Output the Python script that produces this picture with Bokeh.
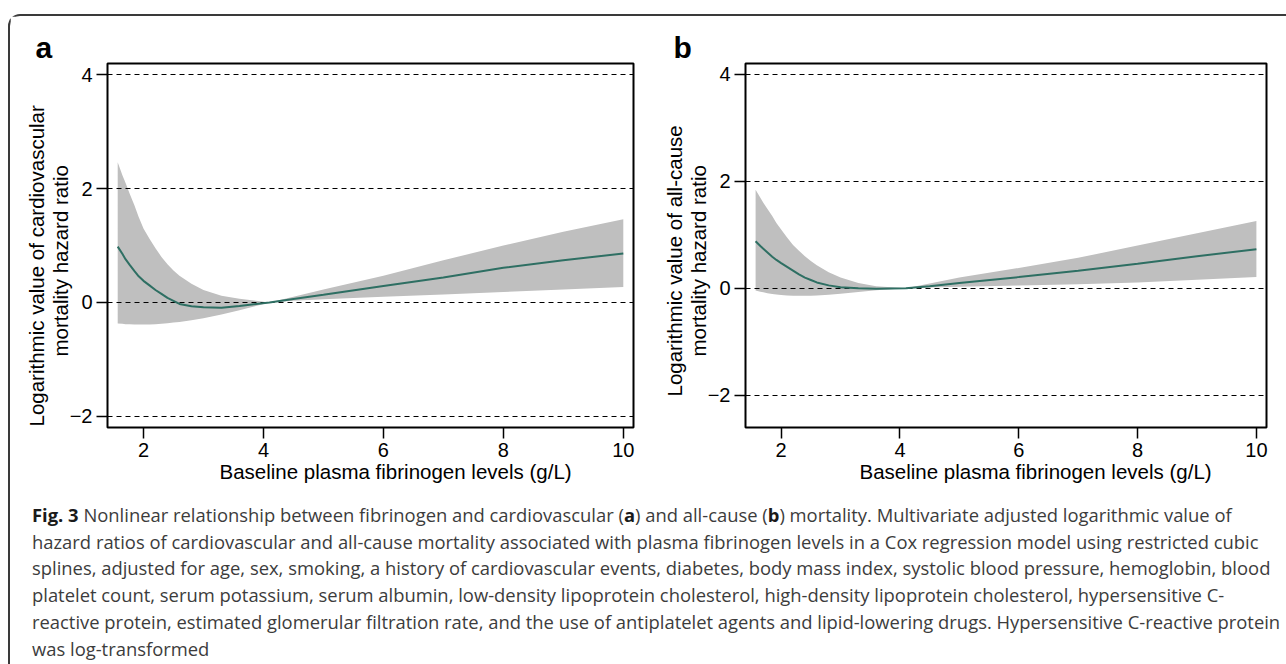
from bokeh.plotting import figure
from bokeh.models import Range1d, FixedTicker, Title, Div
from bokeh.layouts import row, column
from bokeh.embed import file_html
from bokeh.resources import INLINE

# ---------------- data ----------------
fibrinogen = [1.57, 1.65, 1.70, 1.77, 1.85, 1.92, 2.0, 2.1, 2.2, 2.3, 2.4, 2.5,
              2.6, 2.8, 3.0, 3.3, 3.6, 4.1, 4.5, 5.0, 6.0, 7.0, 8.0, 9.0, 10.0]

# panel a: cardiovascular mortality (log HR, 95% CI)
cv_fit = [0.98, 0.85, 0.76, 0.66, 0.55, 0.46, 0.38, 0.30, 0.22, 0.15, 0.08, 0.03,
          -0.025, -0.065, -0.085, -0.09, -0.06, 0.0, 0.06, 0.135, 0.29, 0.44,
          0.61, 0.74, 0.86]
cv_upper = [2.46, 2.23, 2.10, 1.91, 1.70, 1.50, 1.30, 1.12, 0.95, 0.80, 0.67, 0.56,
            0.47, 0.33, 0.22, 0.12, 0.065, 0.0, 0.10, 0.23, 0.47, 0.74, 1.00,
            1.24, 1.46]
cv_lower = [-0.37, -0.375, -0.38, -0.382, -0.385, -0.386, -0.386, -0.385, -0.38,
            -0.373, -0.365, -0.353, -0.34, -0.31, -0.275, -0.21, -0.135, 0.0,
            0.03, 0.055, 0.10, 0.14, 0.185, 0.23, 0.27]

# panel b: all-cause mortality (log HR, 95% CI)
ac_fit = [0.88, 0.79, 0.74, 0.67, 0.59, 0.53, 0.47, 0.40, 0.33, 0.26, 0.20, 0.155,
          0.11, 0.055, 0.02, 0.0, -0.01, 0.0, 0.04, 0.10, 0.21, 0.33, 0.46,
          0.60, 0.73]
ac_upper = [1.84, 1.69, 1.60, 1.48, 1.35, 1.22, 1.10, 0.95, 0.81, 0.70, 0.60, 0.51,
            0.43, 0.30, 0.20, 0.10, 0.04, 0.0, 0.09, 0.20, 0.38, 0.57, 0.80,
            1.03, 1.26]
ac_lower = [-0.04, -0.062, -0.075, -0.09, -0.105, -0.115, -0.125, -0.133, -0.138,
            -0.14, -0.14, -0.138, -0.135, -0.12, -0.10, -0.07, -0.035, 0.0,
            0.015, 0.03, 0.055, 0.075, 0.11, 0.16, 0.21]

x_ticks = [2, 4, 6, 8, 10]
y_ticks = [-2, 0, 2, 4]
ref_lines = [-2, 0, 2, 4]

x_title = "Baseline plasma fibrinogen levels (g/L)"
y_title_a = ["Logarithmic value of cardiovascular", "mortality hazard ratio"]
y_title_b = ["Logarithmic value of all-cause", "mortality hazard ratio"]

caption_lines = [
    "<b style='color:#1a1a1a'>Fig. 3</b> Nonlinear relationship between fibrinogen and cardiovascular (<b style='color:#1a1a1a'>a</b>) and all-cause (<b style='color:#1a1a1a'>b</b>) mortality. Multivariate adjusted logarithmic value of",
    "hazard ratios of cardiovascular and all-cause mortality associated with plasma fibrinogen levels in a Cox regression model using restricted cubic",
    "splines, adjusted for age, sex, smoking, a history of cardiovascular events, diabetes, body mass index, systolic blood pressure, hemoglobin, blood",
    "platelet count, serum potassium, serum albumin, low-density lipoprotein cholesterol, high-density lipoprotein cholesterol, hypersensitive C-",
    "reactive protein, estimated glomerular filtration rate, and the use of antiplatelet agents and lipid-lowering drugs. Hypersensitive C-reactive protein",
    "was log-transformed",
]

FONT = "Liberation Sans"
BAND = "#BFBFBF"
LINE = "#2E6F63"
FIG_H = 481
TICK_FS = "20px"
TITLE_FS = "20.5px"


def make_panel(letter, y_titles, y_offsets, fit, lower, upper, yr, width,
               mb_left, mb_right, xlab_offset):
    p = figure(width=width, height=FIG_H,
               x_range=Range1d(1.40, 10.17), y_range=Range1d(*yr),
               output_backend="svg", toolbar_location=None,
               min_border_left=mb_left, min_border_right=mb_right,
               min_border_top=47, min_border_bottom=70)
    p.xgrid.visible = False
    p.ygrid.visible = False
    p.background_fill_color = "white"
    p.border_fill_color = "white"
    p.outline_line_color = "black"
    p.outline_line_width = 2

    p.varea(x=fibrinogen, y1=lower, y2=upper, fill_color=BAND, fill_alpha=1.0)
    p.hspan(y=ref_lines, line_color="black", line_width=1.2, line_dash="5 4")
    p.line(x=fibrinogen, y=fit, line_color=LINE, line_width=2)

    for ax in (p.xaxis[0], p.yaxis[0]):
        ax.axis_line_color = None
        ax.major_tick_line_color = "black"
        ax.major_tick_line_width = 1.5
        ax.major_tick_out = 11
        ax.major_tick_in = 0
        ax.minor_tick_line_color = None
        ax.major_label_text_font = FONT
        ax.major_label_text_font_size = TICK_FS
        ax.major_label_text_color = "black"
        ax.major_label_standoff = 4
    p.xaxis[0].ticker = FixedTicker(ticks=x_ticks)
    p.yaxis[0].ticker = FixedTicker(ticks=y_ticks)
    p.yaxis[0].major_label_overrides = {t: str(t).replace("-", "\u2212") for t in y_ticks}

    # x-axis title (below the tick labels)
    p.add_layout(Title(text=x_title, align="left", offset=xlab_offset, standoff=0,
                       vertical_align="top",
                       text_font=FONT, text_font_size=TITLE_FS,
                       text_font_style="normal", text_color="black"), "below")
    # y-axis title: two lines, inner line first
    for txt, off, so in zip(reversed(y_titles), reversed(y_offsets), (-10, 7)):
        p.add_layout(Title(text=txt, align="left", offset=off, standoff=so,
                           text_font=FONT, text_font_size=TITLE_FS,
                           text_font_style="normal", text_color="black"), "left")
    # panel letter
    p.add_layout(Title(text=letter, align="left", offset=-72, standoff=0,
                       text_font=FONT, text_font_size="30px",
                       text_font_style="bold", text_color="black"), "above")
    return p


pa = make_panel("a", y_title_a, (1, 71), cv_fit, cv_lower, cv_upper,
                (-2.193, 4.193), 640, 97, 17, 112)
pb = make_panel("b", y_title_b, (31, 71), ac_fit, ac_lower, ac_upper,
                (-2.6, 4.2), 626, 95, 10, 114)

cap_html = ("<div style=\"font-family: 'Open Sans', Lato, sans-serif; font-size: 18.4px; "
            "line-height: 26.7px; color: #3c3c3c; white-space: nowrap; "
            "padding-left: 17px;\">" + "<br>".join(caption_lines) + "</div>")
cap = Div(text=cap_html, width=1266, height=165,
          styles={"overflow": "hidden"})

layout = column(row(pa, pb), cap,
                styles={"border-top": "2px solid #3a3a3a",
                        "border-left": "2px solid #3a3a3a",
                        "border-top-left-radius": "12px",
                        "margin-top": "14px",
                        "margin-left": "8px"})

open("out.html", "w").write(file_html(layout, INLINE))
